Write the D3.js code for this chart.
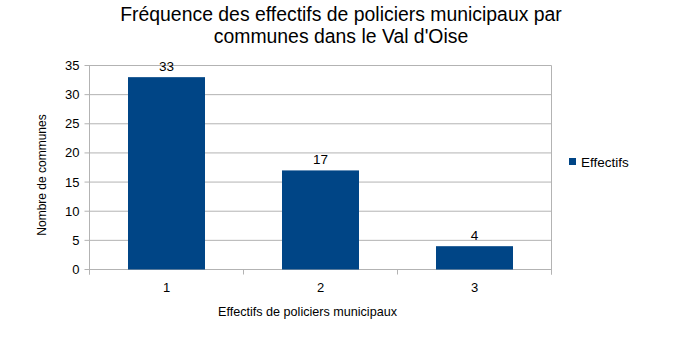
<!DOCTYPE html>
<html><head><meta charset="utf-8">
<script src="https://cdn.jsdelivr.net/npm/d3@7"></script>
<style>body{margin:0;background:#fff;} text{font-family:"Liberation Sans",Arial,sans-serif;fill:#000;}</style>
</head><body>
<svg id="c" width="682" height="341"></svg>
<script>
const categories = ["1", "2", "3"];
const values = [33, 17, 4];
const yTicks = [0, 5, 10, 15, 20, 25, 30, 35];
const seriesName = "Effectifs";
const titleLines = ["Fréquence des effectifs de policiers municipaux par", "communes dans le Val d'Oise"];
const xTitle = "Effectifs de policiers municipaux";
const yTitle = "Nombre de communes";

const svg = d3.select("#c");
svg.append("rect").attr("width",682).attr("height",341).attr("fill","#fff");
const L = 89.5, R = 551.5, T = 65.5, B = 269.5;
const x = d3.scaleBand().domain(categories).range([L, R]).paddingInner(0.5).paddingOuter(0.25);
const y = d3.scaleLinear().domain([0, 35]).range([B, T]);
const grid = "#b3b3b3", color = "#004586";

// gridlines
svg.append("g").selectAll("line").data(yTicks).join("line")
  .attr("x1", L - 5).attr("x2", R).attr("y1", d => y(d)).attr("y2", d => y(d))
  .attr("stroke", grid).attr("stroke-width", 1);
// left axis and right border
svg.append("line").attr("x1", L).attr("x2", L).attr("y1", T).attr("y2", B + 5).attr("stroke", grid);
svg.append("line").attr("x1", R).attr("x2", R).attr("y1", T).attr("y2", B + 5).attr("stroke", grid);
// category boundary ticks
const bounds = d3.range(categories.length + 1).map(i => L + i * (R - L) / categories.length);
svg.append("g").selectAll("line").data(bounds).join("line")
  .attr("x1", d => d).attr("x2", d => d).attr("y1", B).attr("y2", B + 5).attr("stroke", grid);

// y tick labels
svg.append("g").selectAll("text").data(yTicks).join("text")
  .attr("x", 79.5).attr("y", d => y(d)).attr("dy", "0.35em").attr("text-anchor", "end")
  .attr("font-size", 13).text(d => d);

// x tick labels
svg.append("g").selectAll("text").data(categories).join("text")
  .attr("x", d => x(d) + x.bandwidth() / 2).attr("y", 287).attr("dy", "0.35em")
  .attr("text-anchor", "middle").attr("font-size", 13).text(d => d);

// bars
svg.append("g").selectAll("rect").data(values).join("rect")
  .attr("x", (d, i) => x(categories[i])).attr("width", x.bandwidth())
  .attr("y", d => y(d)).attr("height", d => y(0) - y(d)).attr("fill", color);

// data labels
svg.append("g").selectAll("text").data(values).join("text")
  .attr("x", (d, i) => x(categories[i]) + x.bandwidth() / 2).attr("y", d => y(d) - 6)
  .attr("text-anchor", "middle").attr("font-size", 13.5).text(d => d);

// title
svg.append("g").selectAll("text").data(titleLines).join("text")
  .attr("x", 341).attr("y", (d, i) => 21 + i * 21.5).attr("text-anchor", "middle")
  .attr("font-size", 19.4).text(d => d);

// axis titles
svg.append("text").attr("x", 307.5).attr("y", 312).attr("dy", "0.35em")
  .attr("text-anchor", "middle").attr("font-size", 12.6).text(xTitle);
svg.append("text").attr("transform", "translate(42,175) rotate(-90)").attr("dy", "0.35em")
  .attr("text-anchor", "middle").attr("font-size", 12).text(yTitle);

// legend
svg.append("rect").attr("x", 569).attr("y", 158).attr("width", 7).attr("height", 7).attr("fill", color);
svg.append("text").attr("x", 581).attr("y", 162).attr("dy", "0.35em").attr("font-size", 13.5).text(seriesName);
</script>
</body></html>
